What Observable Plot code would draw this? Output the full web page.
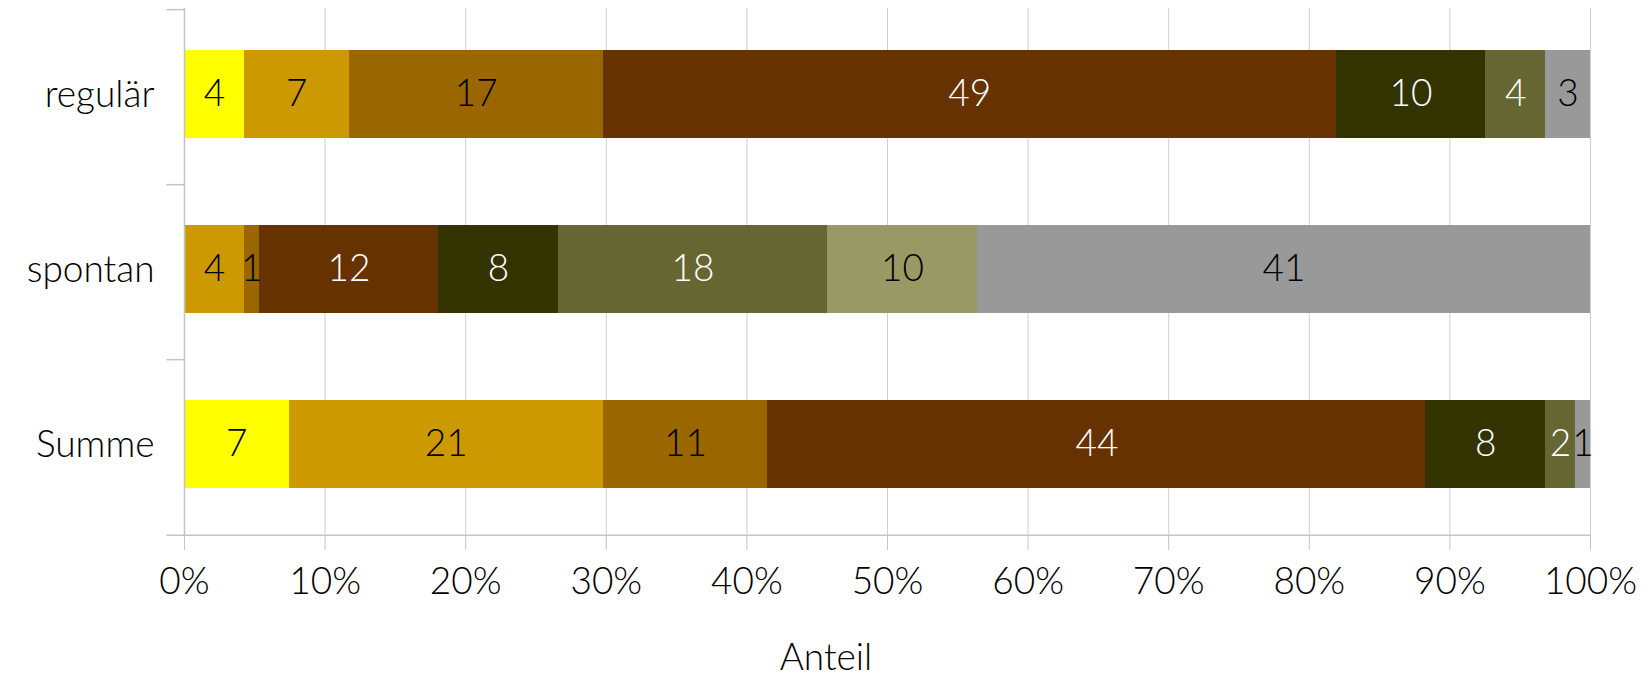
<!DOCTYPE html>
<html>
<head>
<meta charset="utf-8">
<script src="https://cdn.jsdelivr.net/npm/d3@7"></script>
<script src="https://cdn.jsdelivr.net/npm/@observablehq/plot@0.6"></script>
<style>
  html, body { margin: 0; padding: 0; background: #fff; }
  #chart svg { display: block; }
</style>
</head>
<body>
<div id="chart"></div>
<script>
// ---- data ----
const categories = ["regulär", "spontan", "Summe"];
const seriesNames = ["Serie 1", "Serie 2", "Serie 3", "Serie 4", "Serie 5", "Serie 6", "Serie 7", "Serie 8"];
const seriesColors = ["#FFFF00", "#CC9900", "#996600", "#663300", "#333300", "#666633", "#999966", "#999999"];
const labelColors = ["black", "black", "black", "white", "white", "white", "black", "black"];
const valuesRegulaer = [4, 7, 17, 49, 10, 4, 0, 3];
const valuesSpontan = [0, 4, 1, 12, 8, 18, 10, 41];
const valuesSumme = [7, 21, 11, 44, 8, 2, 0, 1];
const xTicks = [0, 0.1, 0.2, 0.3, 0.4, 0.5, 0.6, 0.7, 0.8, 0.9, 1];
const xLabel = "Anteil";

const valuesByCategory = [valuesRegulaer, valuesSpontan, valuesSumme];
const data = [];
categories.forEach((cat, ci) => {
  seriesNames.forEach((s, si) => {
    data.push({cat, series: s, value: valuesByCategory[ci][si], color: seriesColors[si], label: labelColors[si]});
  });
});

const W = 1651, H = 686;
const mTop = 8, mBottom = 151, mLeft = 184, mRight = 61;
const step = (H - mTop - mBottom) / categories.length;
const font = "Lato, 'Open Sans', sans-serif";
const axisColor = "#c4c4c4";
const gridColor = "#cfcfcf";

const chart = Plot.plot({
  width: W,
  height: H,
  marginTop: mTop,
  marginBottom: mBottom,
  marginLeft: mLeft,
  marginRight: mRight,
  style: {fontFamily: font, fontSize: "37px", fontWeight: 300, color: "black", background: "white"},
  x: {domain: [0, 1], axis: null},
  y: {domain: categories, paddingInner: 0.5, paddingOuter: 0.25, axis: null},
  color: {type: "identity"},
  marks: [
    Plot.gridX(xTicks, {stroke: gridColor, strokeOpacity: 1}),
    Plot.barX(data, Plot.stackX({offset: "normalize", x: "value", y: "cat", fill: "color", inset: 0, dy: -3, shapeRendering: "crispEdges"})),
    Plot.ruleX([0], {stroke: axisColor, strokeWidth: 1.5}),
    Plot.ruleY(categories, {y: d => d, dy: -step / 2, x1: -0.0125, x2: 0, stroke: axisColor, strokeWidth: 1.5}),
    Plot.ruleY([categories[categories.length - 1]], {y: d => d, dy: step / 2, x1: -0.0125, x2: 1, stroke: axisColor, strokeWidth: 1.5}),
    Plot.axisX(xTicks, {tickSize: 15, tickPadding: 17, stroke: axisColor, fill: "black", tickFormat: d => Math.round(d * 100) + "%", label: null, fontSize: 37}),
    Plot.axisY(categories, {tickSize: 0, tickPadding: 30, label: null, fill: "black", fontSize: 37, dy: -2}),
    Plot.text(data.filter(d => d.value > 0), Plot.stackX({offset: "normalize", x: "value", y: "cat", z: "series", text: d => String(d.value), fill: "label", fontSize: 37, dy: -3})),
    Plot.text([xLabel], {frameAnchor: "bottom", dy: 134, dx: (W / 2) - (mLeft + (W - mLeft - mRight) / 2), fontSize: 37, fill: "black"})
  ]
});
document.getElementById("chart").appendChild(chart);
</script>
</body>
</html>
